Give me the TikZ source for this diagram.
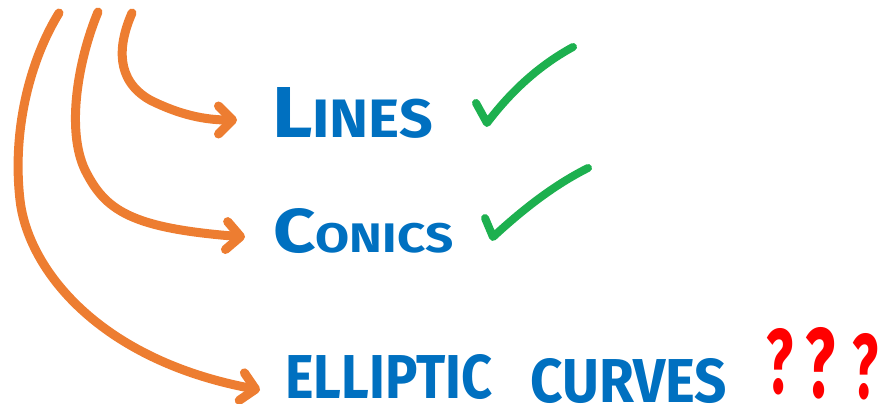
\documentclass[tikz,border=0pt]{standalone}
\usepackage{fontspec}
\setmainfont{Fira Sans}
\usetikzlibrary{arrows.meta}
\definecolor{arrorange}{HTML}{ED7D31}
\definecolor{txtblue}{HTML}{0070C0}
\definecolor{okgreen}{HTML}{1DB04F}
\definecolor{qred}{HTML}{FF0000}
\begin{document}
\begin{tikzpicture}[x=1pt,y=-1pt,
  arr/.style={draw=arrorange, line width=9pt, line cap=round, line join=round,
    -{Straight Barb[length=14pt,width=28pt,round]}},
  tick/.style={draw=okgreen, line width=8pt, line cap=round, line join=round},
  word/.style={inner sep=0pt, anchor=base west, text=txtblue, font=\bfseries},
  qmark/.style={inner sep=0pt, anchor=base west, text=qred, font=\bfseries}]
\useasboundingbox (0,0) rectangle (887,404);
% labels
\node[word] (L) at (272,137) {\resizebox{161pt}{50pt}{\fontsize{72}{72}\selectfont L\fontsize{54}{54}\selectfont INES}};
\node[word] (C) at (273,252) {\resizebox{180pt}{44pt}{\fontsize{66}{66}\selectfont C\fontsize{44}{44}\selectfont ONICS}};
\node[word] (ec) at (285,398) {\resizebox{207pt}{44pt}{ELLIPTIC}\hspace{38pt}\raisebox{-4pt}{\resizebox{197pt}{44pt}{CURVES}}};
\node[qmark] (q1) at (766,393) {\resizebox{27pt}{65pt}{?}};
\node[qmark] (q2) at (805,397) {\resizebox{30pt}{70pt}{?}};
\node[qmark] (q3) at (852,398) {\resizebox{26pt}{65pt}{?}};
% arrow start and end points
\coordinate (s1) at (132,13);
\coordinate (s2) at (98,12);
\coordinate (s3) at (59,13);
\coordinate (t1) at ([shift={(-35,-17)}]L.base west);
\coordinate (t2) at ([shift={(-28,-15)}]C.base west);
\coordinate (t3) at ([shift={(-25,-8)}]ec.base west);
% arrows
\draw[arr] (s1) .. controls (118,45) and (115,80) .. (150,100)
               .. controls (180,115) and (205,120) .. (t1);
\draw[arr] (s2) .. controls (78,60) and (66,130) .. (85,170)
               .. controls (105,210) and (130,228) .. (t2);
\draw[arr] (s3) .. controls (30,60) and (12,130) .. (20,200)
               .. controls (28,270) and (100,360) .. (t3);
% check marks
\coordinate (k1a) at (476,103);
\coordinate (k1b) at (487,123);
\coordinate (k1c) at (573,47);
\coordinate (k2a) at (485,218);
\coordinate (k2b) at (493,237);
\coordinate (k2c) at (588,168);
\draw[tick] (k1a) -- (k1b) .. controls (512,90) and (540,65) .. (k1c);
\draw[tick] (k2a) -- (k2b) .. controls (520,212) and (552,186) .. (k2c);
\end{tikzpicture}
\end{document}
